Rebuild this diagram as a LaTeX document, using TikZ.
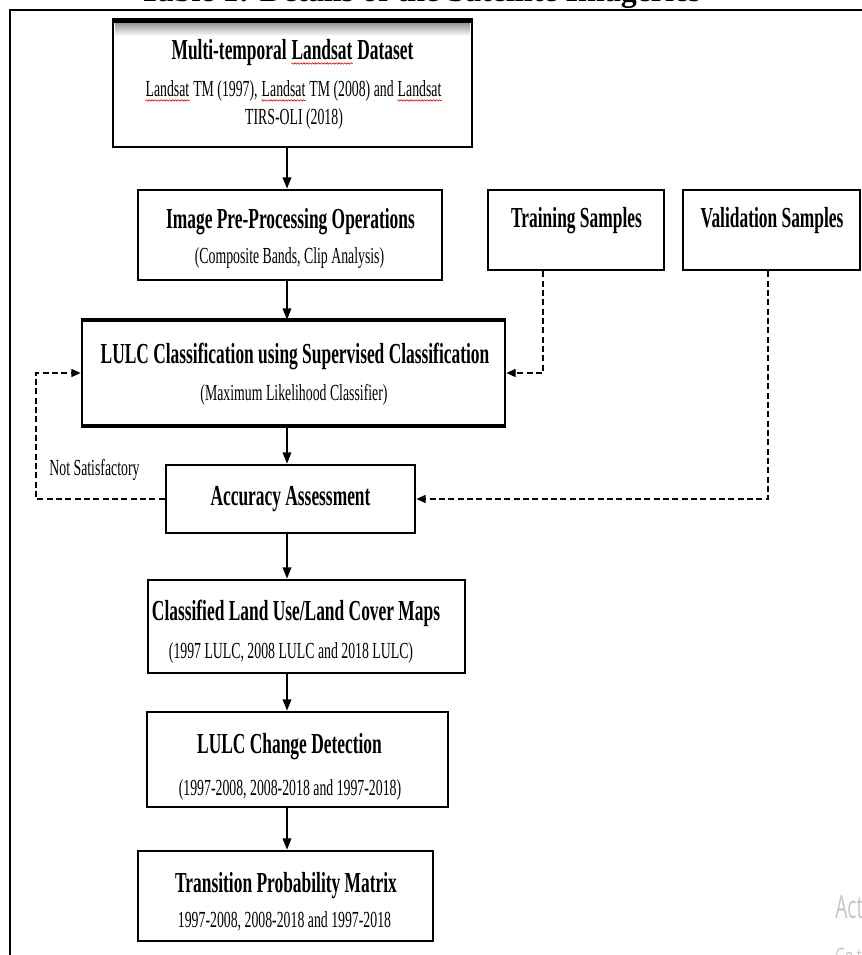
\documentclass[tikz,border=0pt]{standalone}
\usepackage{fontspec}
\setmainfont[FakeStretch=0.6]{Liberation Serif}
\newfontfamily\plainserif{Liberation Serif}
\newfontfamily\wmfont[FakeStretch=0.6]{Open Sans}
\usetikzlibrary{arrows.meta,decorations.pathmorphing}
\newcommand{\sqw}[1]{\tikz[baseline=(sqword.base)]{\node[inner sep=0pt, anchor=base] (sqword) at (0,0) {#1};
  \draw[red!85!black, line width=0.45pt, decorate, decoration={snake, amplitude=0.55pt, segment length=2.2pt}] ([yshift=-2.6pt]sqword.base west) -- ([yshift=-2.6pt]sqword.base east);}}
\tikzset{
  box/.style={draw, line width=2pt, inner sep=0pt},
  T/.style={anchor=base, inner sep=0pt, font=\bfseries\fontsize{21.75pt}{26pt}\selectfont},
  S/.style={anchor=base, inner sep=0pt, font=\fontsize{17.25pt}{20pt}\selectfont},
  arr/.style={line width=1.1pt, -{Triangle[length=8.5pt,width=6.5pt]}},
  dsh/.style={line width=1pt, dash pattern=on 4.5pt off 2.5pt, -{Triangle[length=7pt,width=6pt]}},
}
\begin{document}
\begin{tikzpicture}[x=0.75pt,y=-0.75pt]
\useasboundingbox (0,0) rectangle (861,955);
% outer frame
\draw[line width=2pt] (10,965) -- (10,10) -- (870,10);
% partially visible caption
\node[anchor=base, inner sep=0pt, font=\plainserif\bfseries\fontsize{24pt}{28pt}\selectfont] (cap) at (420,2) {Table 1: Details of the Satellite Imageries};

% boxes
\shade[top color=gray!75, bottom color=white] (115,24) rectangle (470,36);
\node[box, minimum width=269.25pt, minimum height=93.75pt] (b1) at (292.5,84.5) {};
\draw[line width=3.5pt] (b1.north west) -- (b1.north east);
\node[box, minimum width=228pt, minimum height=67.5pt] (b2) at (290,235) {};
\node[box, minimum width=132pt, minimum height=60pt] (tr) at (576,230) {};
\node[box, minimum width=132.75pt, minimum height=60pt] (va) at (771.5,230) {};
\node[box, minimum width=317.25pt, minimum height=78pt] (lu) at (293.5,373) {};
\draw[line width=3pt] (lu.north west) -- (lu.north east);
\draw[line width=3pt] (lu.south west) -- (lu.south east);
\node[box, minimum width=186.75pt, minimum height=51pt] (ac) at (290.5,499) {};
\node[box, minimum width=237.75pt, minimum height=69.75pt] (cl) at (306.5,626.5) {};
\node[box, minimum width=225.75pt, minimum height=71.25pt] (ch) at (297.5,759.5) {};
\node[box, minimum width=221.25pt, minimum height=67.5pt] (tp) at (285.5,896) {};

% texts
\node[T] (t1a) at (292.5,60) {Multi-temporal \sqw{Landsat} Dataset};
\node[S] (t1b) at (293.5,97) {\sqw{Landsat} TM (1997), \sqw{Landsat} TM (2008) and \sqw{Landsat}};
\node[S] (t1c) at (294,125) {TIRS-OLI (2018)};
\node[T] (t2a) at (290.5,229) {Image Pre-Processing Operations};
\node[S] (t2b) at (289.5,263) {(Composite Bands, Clip Analysis)};
\node[T] (ttr) at (576.5,228) {Training Samples};
\node[T] (tva) at (772,228) {Validation Samples};
\node[T] (tlua) at (295,363) {LULC Classification using Supervised Classification};
\node[S] (tlub) at (294,400) {(Maximum Likelihood Classifier)};
\node[S] (tns) at (94.5,475) {Not Satisfactory};
\node[T] (tac) at (290.5,505) {Accuracy Assessment};
\node[T] (tcla) at (296,620) {Classified Land Use/Land Cover Maps};
\node[S] (tclb) at (291,658) {(1997 LULC, 2008 LULC and 2018 LULC)};
\node[T] (tcha) at (289.5,753) {LULC Change Detection};
\node[S] (tchb) at (290,795) {(1997-2008, 2008-2018 and 1997-2018)};
\node[T] (ttpa) at (286,892) {Transition Probability Matrix};
\node[S] (ttpb) at (284.5,927) {1997-2008, 2008-2018 and 1997-2018};

% watermark
\node[anchor=base west, inner sep=0pt, text=gray!45, font=\wmfont\fontsize{24pt}{28pt}\selectfont] (wm1) at (835,918) {Activate Windows};
\node[anchor=base west, inner sep=0pt, text=gray!45, font=\wmfont\fontsize{17pt}{20pt}\selectfont] (wm2) at (835,964) {Go to Settings to activate Windows.};

% connectors
\coordinate (col) at (287,0);
\coordinate (trx) at (543,0);
\coordinate (vax) at (768,0);
\coordinate (lpx) at (36,0);
\draw[arr] (b1.south -| col) -- (b2.north -| col);
\draw[arr] (b2.south -| col) -- (lu.north -| col);
\draw[arr] (lu.south -| col) -- (ac.north -| col);
\draw[arr] (ac.south -| col) -- (cl.north -| col);
\draw[arr] (cl.south -| col) -- (ch.north -| col);
\draw[arr] (ch.south -| col) -- (tp.north -| col);
\draw[dsh] (tr.south -| trx) |- (lu.east);
\draw[dsh] (va.south -| vax) |- (ac.east);
\draw[dsh] (ac.west) -- (ac.west -| lpx) -- (lu.west -| lpx) -- (lu.west);
\end{tikzpicture}
\end{document}
